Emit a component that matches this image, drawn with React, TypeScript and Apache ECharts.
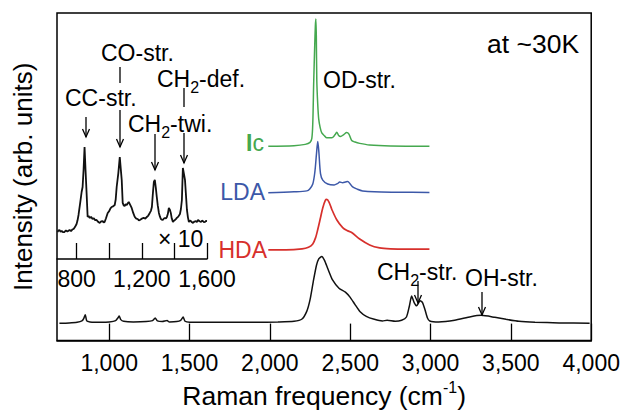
import React, { useEffect, useRef } from 'react';
import * as echarts from 'echarts';

const FONT = '"Liberation Sans", Arial, Helvetica, sans-serif';

// x-axis ticks / labels
const mainTicks = [1000, 1500, 2000, 2500, 3000, 3500, 4000];
const insetTicks = [800, 1000, 1200, 1400, 1600];
const insetTickLabels = [800, 1200, 1600];

// Spectra: [Raman shift (cm-1), intensity (arb. units, offset for display)]
const fullSpectrum: [number, number][] = [
  [690, 5.3], [750, 5.4], [800, 5.6], [830, 6.0], [842, 6.8], [851, 7.9], [860, 6.0], [880, 5.7],
  [950, 5.6], [1000, 5.7], [1040, 6.1], [1055, 7.0], [1062, 7.5], [1072, 6.4], [1090, 5.9], [1150, 5.7],
  [1230, 5.8], [1270, 6.1], [1286, 6.9], [1300, 6.0], [1330, 5.8], [1360, 6.1], [1375, 5.7], [1420, 5.8],
  [1445, 6.2], [1460, 7.2], [1472, 5.9], [1500, 5.6], [1700, 5.6], [1900, 5.6], [2050, 5.7], [2150, 5.9],
  [2200, 6.6], [2230, 9.0], [2250, 12.5], [2270, 18.0], [2290, 23.0], [2305, 25.0], [2323, 25.7], [2340, 24.5],
  [2360, 22.0], [2390, 18.5], [2430, 16.0], [2470, 14.8], [2500, 13.2], [2530, 11.0], [2560, 8.9], [2600, 7.4],
  [2650, 6.5], [2700, 6.0], [2730, 6.2], [2780, 5.9], [2820, 6.2], [2850, 7.2], [2868, 10.5], [2882, 13.6],
  [2898, 11.6], [2913, 10.6], [2935, 12.2], [2950, 11.6], [2965, 9.5], [2980, 7.0], [2995, 6.0], [3050, 5.7],
  [3150, 6.2], [3250, 7.3], [3316, 7.7], [3400, 7.1], [3470, 6.5], [3550, 5.9], [3650, 5.6], [3800, 5.4],
  [3990, 5.3],
];

const hdaSpectrum: [number, number][] = [
  [1990, 27.7], [2100, 27.7], [2200, 28.0], [2240, 28.5], [2267, 29.5], [2285, 31.5], [2298, 33.9],
  [2315, 37.5], [2329, 40.5], [2345, 42.8], [2354, 43.1], [2368, 42.3], [2385, 40.1], [2416, 36.9],
  [2453, 34.5], [2480, 33.6], [2509, 33.0], [2559, 31.0], [2621, 29.2], [2683, 28.3], [2750, 28.0],
  [2850, 27.9], [2993, 27.9],
];

const ldaSpectrum: [number, number][] = [
  [1990, 45.1], [2150, 45.4], [2230, 45.7], [2248, 46.3], [2267, 47.8], [2280, 51.5], [2290, 57.0],
  [2298, 60.8], [2305, 57.5], [2315, 51.0], [2329, 49.0], [2360, 47.8], [2400, 47.5], [2420, 47.9],
  [2435, 48.4], [2453, 48.2], [2470, 48.4], [2484, 48.6], [2500, 47.8], [2515, 46.9], [2545, 46.2],
  [2577, 45.7], [2650, 45.4], [2800, 45.3], [2993, 45.2],
];

const icSpectrum: [number, number][] = [
  [1990, 59.3], [2150, 59.5], [2220, 59.9], [2250, 60.5], [2261, 61.7], [2267, 66.4], [2273, 79.4],
  [2279, 90.0], [2283, 96.0], [2286, 98.2], [2289, 93.0], [2292, 79.4], [2298, 72.0], [2304, 67.6],
  [2313, 65.0], [2323, 63.4], [2340, 62.5], [2354, 61.9], [2385, 61.9], [2405, 62.8], [2416, 63.6],
  [2428, 62.6], [2440, 62.3], [2460, 62.9], [2478, 63.5], [2492, 63.0], [2509, 61.1], [2530, 60.6],
  [2559, 60.2], [2620, 59.7], [2750, 59.4], [2993, 59.3],
];

// Inset (x10 magnified) low-frequency region
const insetSpectrum: [number, number][] = [
  [683, 22.7], [689, 23.9], [695, 24.4], [702, 22.9], [709, 23.6], [716, 22.5], [726, 22.7], [735, 24.0],
  [744, 23.2], [757, 24.4], [766, 23.5], [775, 24.9], [782, 25.2], [790, 26.8], [800, 29.4], [806, 32.5],
  [812, 37.0], [822, 47.0], [831, 56.3], [837, 60.5], [843, 75.0], [849, 94.1], [855, 74.8], [862, 53.8],
  [868, 35.3], [874, 36.2], [880, 34.5], [889, 35.4], [898, 33.6], [906, 34.3], [914, 32.6], [923, 32.8],
  [932, 31.2], [942, 30.3], [951, 31.6], [960, 31.9], [966, 30.6], [972, 31.1], [980, 34.0], [991, 38.7],
  [1000, 40.2], [1008, 42.6], [1015, 43.7], [1024, 44.2], [1034, 45.4], [1040, 50.0], [1046, 60.5], [1056, 72.0],
  [1065, 85.7], [1071, 76.0], [1077, 66.4], [1083, 47.1], [1089, 45.0], [1095, 44.5], [1101, 46.0], [1108, 45.4],
  [1114, 46.8], [1120, 47.9], [1129, 45.5], [1138, 42.9], [1148, 38.5], [1157, 35.3], [1166, 34.0], [1175, 33.6],
  [1182, 32.4], [1188, 32.8], [1200, 33.9], [1212, 34.5], [1222, 34.0], [1231, 35.3], [1240, 36.5], [1249, 38.7],
  [1256, 40.5], [1262, 43.7], [1268, 55.0], [1274, 64.7], [1280, 66.4], [1286, 60.0], [1292, 52.1], [1298, 45.0],
  [1305, 38.7], [1311, 35.8], [1317, 33.6], [1323, 33.1], [1329, 32.8], [1336, 34.0], [1342, 34.5], [1348, 34.0],
  [1354, 35.3], [1360, 38.0], [1366, 42.9], [1372, 41.5], [1378, 38.7], [1384, 34.0], [1391, 31.1], [1397, 32.2],
  [1403, 32.8], [1409, 33.5], [1415, 34.5], [1424, 35.6], [1434, 37.8], [1440, 42.0], [1446, 49.6], [1452, 76.5],
  [1458, 72.0], [1465, 66.4], [1471, 53.8], [1477, 41.2], [1483, 35.0], [1489, 31.1], [1495, 32.4], [1501, 31.9],
  [1508, 30.8], [1514, 30.3], [1523, 31.5], [1532, 31.9], [1538, 31.0], [1545, 32.8], [1554, 31.7], [1563, 31.1],
  [1569, 32.2], [1575, 31.9], [1581, 30.9], [1588, 31.1], [1594, 32.0], [1600, 31.9],
];

const GREEN = '#45a84f';
const BLUE = '#3c58a8';
const RED = '#d7302c';
const BLACK = '#111';

const FS = 23;

const fmt = (v: number) => v.toLocaleString('en-US');

function txt(text: string, x: number, y: number, opts: any = {}) {
  return {
    type: 'text',
    x,
    y,
    z: 100,
    style: {
      text,
      fontSize: FS,
      fontFamily: FONT,
      fill: '#000',
      align: 'left',
      verticalAlign: 'middle',
      ...opts,
    },
  };
}

function subRich() {
  return {
    a: { fontSize: FS, fontFamily: FONT, lineHeight: 32, verticalAlign: 'middle', fill: '#000' },
    s: { fontSize: 16, fontFamily: FONT, lineHeight: 32, verticalAlign: 'bottom', fill: '#000' },
  };
}

function vline(x: number, y1: number, y2: number) {
  return { type: 'line', z: 100, shape: { x1: x, y1, x2: x, y2 }, style: { stroke: '#000', lineWidth: 1.3 } };
}
function arrow(x: number, y1: number, y2: number) {
  return [
    vline(x, y1, y2),
    {
      type: 'polyline',
      z: 100,
      shape: { points: [[x - 3.5, y2 - 8], [x, y2], [x + 3.5, y2 - 8]] },
      style: { stroke: '#000', lineWidth: 1.3, fill: null },
    },
  ];
}

export default function App() {
  const ref = useRef<HTMLDivElement>(null);
  useEffect(() => {
    document.body.style.margin = '0';
    if (!ref.current) return;
    const chart = echarts.init(ref.current, undefined, { renderer: 'svg' });
    const lineSeries = (name: string, data: [number, number][], color: string, idx = 0, smooth: any = 0.3, width = 1.5) => ({
      name,
      type: 'line',
      xAxisIndex: idx,
      yAxisIndex: idx,
      data,
      showSymbol: false,
      smooth,
      lineStyle: { color, width },
      itemStyle: { color },
    });

    chart.setOption({
      animation: false,
      grid: [
        { left: 57, right: 31, top: 13, bottom: 62, show: true, borderColor: '#000', borderWidth: 1.5, backgroundColor: 'transparent' },
        { left: 57, top: 140, width: 150, height: 119 },
      ],
      xAxis: [
        {
          type: 'value',
          gridIndex: 0,
          min: 675,
          max: 4000,
          name: 'Raman frequency (cm{sup|-1})',
          nameLocation: 'middle',
          nameGap: 38,
          nameTextStyle: {
            fontSize: 26.5,
            fontFamily: FONT,
            color: '#000',
            rich: { sup: { fontSize: 16, fontFamily: FONT, verticalAlign: 'top', lineHeight: 32, color: '#000' } },
          },
          axisLine: { show: true, lineStyle: { color: '#000', width: 1.5 } },
          axisTick: { show: true, inside: true, length: 17, customValues: mainTicks, lineStyle: { color: '#000', width: 1.3 } },
          axisLabel: { customValues: mainTicks, formatter: fmt, fontSize: FS, fontFamily: FONT, color: '#000', margin: 11 },
          splitLine: { show: false },
        },
        {
          type: 'value',
          gridIndex: 1,
          min: 680,
          max: 1600,
          axisLine: { show: true, lineStyle: { color: '#000', width: 1.5 } },
          axisTick: { show: true, inside: true, length: 16, customValues: insetTicks, lineStyle: { color: '#000', width: 1.3 } },
          axisLabel: { customValues: insetTickLabels, formatter: fmt, fontSize: FS, fontFamily: FONT, color: '#000', margin: 8 },
          splitLine: { show: false },
        },
      ],
      yAxis: [
        {
          type: 'value',
          gridIndex: 0,
          min: 0,
          max: 100,
          name: 'Intensity (arb. units)',
          nameLocation: 'middle',
          nameGap: 21,
          nameTextStyle: { fontSize: 26, fontFamily: FONT, color: '#000' },
          axisLine: { show: false },
          axisTick: { show: false },
          axisLabel: { show: false },
          splitLine: { show: false },
        },
        {
          type: 'value',
          gridIndex: 1,
          min: 0,
          max: 100,
          show: false,
        },
      ],
      series: [
        lineSeries('Full spectrum', fullSpectrum, BLACK, 0, 0.2),
        lineSeries('HDA', hdaSpectrum, RED, 0, 0.3, 1.7),
        lineSeries('LDA', ldaSpectrum, BLUE, 0, 0.3),
        lineSeries('Ic', icSpectrum, GREEN, 0, 0.3),
        lineSeries('Inset ×10', insetSpectrum, BLACK, 1, false, 1.8),
      ],
      graphic: [
        txt('at ~30K', 487, 44, { fontSize: 26.5 }),
        txt('OD-str.', 323, 80),
        txt('CC-str.', 65, 98),
        txt('CO-str.', 101, 53),
        txt('{a|CH}{s|2}{a|-twi.}', 128, 124, { rich: subRich() }),
        txt('{a|CH}{s|2}{a|-def.}', 157, 79, { rich: subRich() }),
        txt('× 10', 158, 239),
        txt('{a|CH}{s|2}{a|-str.}', 377, 272, { rich: subRich() }),
        txt('OH-str.', 465, 278),
        txt('{b|I}{c|c}', 264, 143, {
          align: 'right',
          rich: {
            b: { fontSize: FS, fontWeight: 'bold', fontFamily: FONT, fill: GREEN, verticalAlign: 'middle', lineHeight: 26 },
            c: { fontSize: FS, fontFamily: FONT, fill: GREEN, verticalAlign: 'middle', lineHeight: 26 },
          },
        }),
        txt('LDA', 265, 192, { align: 'right', fill: BLUE }),
        txt('HDA', 267, 250, { align: 'right', fill: RED }),
        ...arrow(86, 117, 137),
        vline(120, 67, 83),
        ...arrow(120, 110, 147),
        ...arrow(155, 134, 170),
        vline(184, 88, 107),
        ...arrow(184, 133, 163),
        ...arrow(418, 281, 303),
        ...arrow(482, 292, 315),
      ],
    });
    return () => chart.dispose();
  }, []);
  return <div ref={ref} style={{ width: 623, height: 414 }} />;
}
